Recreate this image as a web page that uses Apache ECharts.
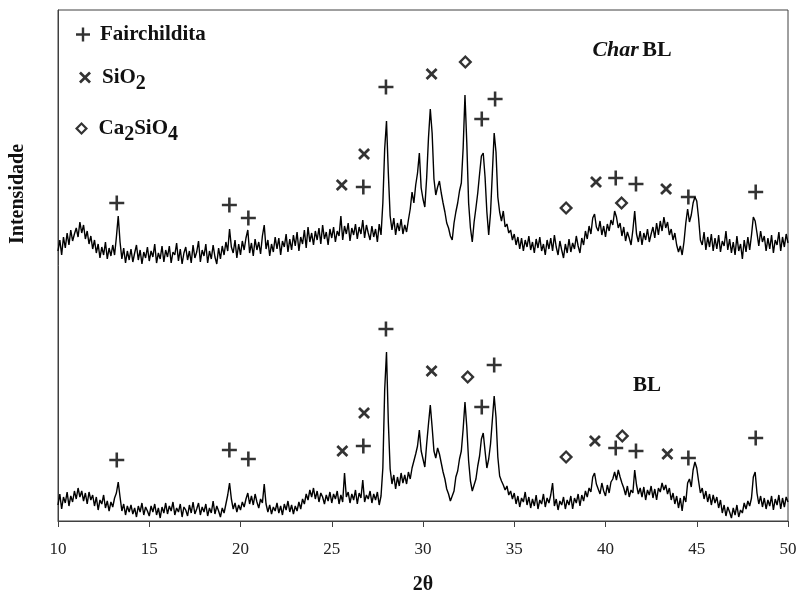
<!DOCTYPE html>
<html>
<head>
<meta charset="utf-8">
<script src="https://cdn.jsdelivr.net/npm/echarts@6/dist/echarts.min.js"></script>
<style>html,body{margin:0;padding:0;background:#fff}#c{width:801px;height:591px}</style>
</head>
<body>
<div id="c"></div>
<script>
// 2θ sampling of the two diffractograms
const twoThetaStart = 10;
const twoThetaStep = 0.1;
const xTicks = [10, 15, 20, 25, 30, 35, 40, 45, 50];

// Intensity (arbitrary units, offset trace) – Char BL, 10.0 … 50.0 step 0.1
const charBL = [
 270,281,266,284,273,288,276,291,280,287,
 293,284,299,288,296,282,290,277,285,272,
 281,268,277,263,274,266,279,262,273,265,
 276,266,284,305,279,262,273,258,270,261,
 272,259,268,276,261,271,257,269,263,274,
 260,270,264,277,258,268,262,275,259,271,
 264,275,258,269,266,278,260,272,257,268,
 274,261,270,258,276,263,269,280,259,271,
 265,277,258,270,262,276,264,257,273,262,
 275,266,279,270,292,274,268,281,263,277,
 266,280,271,283,291,268,278,265,282,271,
 279,267,285,296,272,281,265,277,269,284,
 272,283,266,280,274,287,269,282,271,286,
 275,289,270,284,277,291,273,294,279,288,
 276,290,281,293,277,296,282,289,276,292,
 283,294,279,290,285,305,281,295,287,298,
 280,293,286,297,282,294,287,301,283,296,
 288,281,295,284,292,279,297,286,318,372,
 400,348,305,291,303,286,298,290,302,287,
 296,289,301,312,329,318,336,348,368,333,
 322,314,343,383,412,388,342,326,334,340,
 328,318,309,298,293,285,281,298,309,318,
 330,338,373,426,378,318,293,279,299,313,
 328,347,365,368,344,309,286,308,348,388,
 369,324,309,300,310,294,297,288,291,281,
 287,276,284,272,283,270,281,274,285,271,
 279,268,282,273,284,270,277,266,281,272,
 283,270,286,274,266,280,271,263,277,268,
 282,269,278,272,285,275,268,283,276,290,
 282,295,287,303,307,294,290,300,286,295,
 284,297,290,301,296,310,304,293,298,285,
 294,280,289,283,276,291,310,287,279,290,
 276,288,281,292,279,287,294,283,298,286,
 300,290,304,293,299,286,292,281,288,276,
 269,275,266,279,298,312,299,306,318,324,
 320,303,281,276,289,271,284,274,287,270,
 283,272,286,269,280,275,290,271,282,268,
 279,266,285,270,277,262,281,269,284,271,
 286,304,300,288,275,290,279,285,270,283,
 272,286,268,281,276,289,270,284,274,287,
 278
];

// Intensity – BL, 10.0 … 50.0 step 0.1
const bl = [
 16,27,12,24,18,29,15,25,19,30,
 22,33,24,30,20,28,17,29,21,26,
 15,24,11,21,17,26,13,20,10,19,
 14,23,28,39,24,10,17,6,15,9,
 16,7,13,4,15,9,18,6,14,10,
 5,15,9,17,6,13,3,14,8,18,
 7,15,10,19,6,13,9,17,4,14,
 11,5,16,8,19,7,12,18,6,14,
 9,17,5,13,8,20,7,15,10,4,
 13,8,17,26,38,22,12,18,9,16,
 11,19,14,22,28,17,25,16,27,19,
 13,22,18,37,17,9,16,7,14,10,
 18,8,15,6,17,11,20,9,16,7,
 15,10,19,12,22,17,27,21,31,24,
 33,22,30,19,28,24,17,26,20,29,
 18,27,22,30,17,26,19,48,24,29,
 18,27,21,31,17,28,23,41,19,26,
 22,30,18,27,21,29,16,25,53,131,
 169,99,52,37,46,32,44,35,48,38,
 46,37,49,42,53,60,67,75,91,70,
 62,54,77,97,116,94,70,63,73,67,
 58,49,42,32,27,20,18,30,44,50,
 62,70,92,119,94,60,40,30,28,42,
 55,65,82,88,70,53,62,77,101,125,
 104,64,45,40,36,31,35,26,30,22,
 28,17,25,14,23,19,29,16,24,13,
 22,15,26,12,21,17,27,14,23,18,
 26,38,15,22,11,20,16,24,12,21,
 16,25,12,23,18,27,15,26,20,30,
 24,33,29,44,48,37,32,27,38,30,
 25,36,28,39,42,49,41,51,44,38,
 33,26,35,24,31,28,51,36,27,33,
 24,34,21,31,26,35,23,32,21,33,
 29,38,31,36,27,33,21,28,17,25,
 13,23,10,25,19,38,42,34,51,59,
 53,40,28,33,22,30,19,27,16,26,
 18,24,13,21,8,16,5,14,9,3,
 13,6,16,4,11,8,18,12,20,15,
 23,44,49,28,17,25,14,23,12,21,
 15,25,11,22,16,26,12,23,14,24,
 19
];

// Phase markers [2θ, intensity position]
const fairchildita = [
 [13.22,318],[19.39,316],[20.43,303],[26.73,334],[27.97,434],[33.22,402],[33.95,422],
 [40.56,343],[41.67,337],[44.54,324],[48.23,329],
 [13.22,61],[19.39,71],[20.43,62],[26.73,75],[27.97,192],[33.22,114],[33.90,156],
 [40.56,73],[41.67,70],[44.54,63],[48.23,83]
];
const sio2 = [
 [25.55,336],[26.77,367],[30.47,447],[39.48,339],[43.32,332],
 [25.58,70],[26.77,108],[30.47,150],[39.42,80],[43.39,67]
];
const ca2sio4 = [
 [32.32,459],[37.84,313],[40.88,318],
 [32.45,144],[37.84,64],[40.92,85]
];

const PLUS = 'path://M5.8 0L8.2 0L8.2 5.8L14 5.8L14 8.2L8.2 8.2L8.2 14L5.8 14L5.8 8.2L0 8.2L0 5.8L5.8 5.8Z';
const CROSS = 'path://M0 1.6L1.6 0L5 3.4L8.4 0L10 1.6L6.6 5L10 8.4L8.4 10L5 6.6L1.6 10L0 8.4L3.4 5Z';
const DIAMOND = 'path://M5 0L10 5L5 10L0 5Z M5 2.4L2.4 5L5 7.6L7.6 5Z';

const SERIF = '"Liberation Serif","Times New Roman",serif';
const toXY = arr => arr.map((v, i) => [+(twoThetaStart + i * twoThetaStep).toFixed(2), v]);

const richLeg = {
  a: {fontFamily: SERIF, fontWeight: 'bold', fontSize: 21, color: '#111', lineHeight: 32},
  s: {fontFamily: SERIF, fontWeight: 'bold', fontSize: 20, color: '#111', lineHeight: 20, verticalAlign: 'bottom'}
};
const legFmt = name => ({
  'Fairchildita': '{a|Fairchildita}',
  'SiO2': '{a|SiO}{s|2}',
  'Ca2SiO4': '{a|Ca}{s|2}{a|SiO}{s|4}'
}[name]);
const legBase = {orient: 'vertical', padding: 0, itemWidth: 24, itemHeight: 14, selectedMode: false,
  formatter: legFmt, textStyle: {rich: richLeg}};

const chart = echarts.init(document.getElementById('c'), null, {renderer: 'canvas'});
chart.setOption({
  animation: false,
  backgroundColor: '#fff',
  grid: {left: 58, right: 13, top: 10, bottom: 70, containLabel: false, outerBoundsMode: 'none',
         show: true, borderColor: '#404040', borderWidth: 1},
  legend: [
    Object.assign({}, legBase, {data: [{name: 'Fairchildita', icon: PLUS}], left: 76, top: 24}),
    Object.assign({}, legBase, {data: [{name: 'SiO2', icon: CROSS}], left: 79, top: 67, itemHeight: 12}),
    Object.assign({}, legBase, {data: [{name: 'Ca2SiO4', icon: DIAMOND}], left: 75, top: 118, itemHeight: 13})
  ],
  xAxis: {
    type: 'value', min: 10, max: 50, interval: 5,
    axisLine: {show: true, lineStyle: {color: '#404040', width: 1}},
    axisTick: {show: true, inside: false, length: 6, lineStyle: {color: '#404040'}},
    axisLabel: {margin: 20, fontFamily: SERIF, fontSize: 17, color: '#222',
      formatter: v => xTicks.includes(v) ? String(v) : ''},
    splitLine: {show: false},
    name: '2θ', nameLocation: 'middle', nameGap: 54,
    nameTextStyle: {fontFamily: SERIF, fontWeight: 'bold', fontSize: 20, color: '#111'}
  },
  yAxis: {
    type: 'value', min: 0, max: 511,
    axisLine: {show: true, lineStyle: {color: '#404040', width: 1}},
    axisTick: {show: false}, axisLabel: {show: false}, splitLine: {show: false}
  },
  graphic: [
    {type: 'text', x: 18, y: 194, rotation: Math.PI / 2,
     style: {text: 'Intensidade', fontFamily: SERIF, fontWeight: 'bold', fontSize: 20, fill: '#111',
       textAlign: 'center', textVerticalAlign: 'middle'}},
    {type: 'text', x: 632, y: 50,
     style: {text: '{i|Char} {b|BL}', textAlign: 'center', textVerticalAlign: 'middle',
       rich: {i: {fontFamily: SERIF, fontWeight: 'bold', fontStyle: 'italic', fontSize: 22, fill: '#111'},
              b: {fontFamily: SERIF, fontWeight: 'bold', fontSize: 22, fill: '#111'}}}},
    {type: 'text', x: 647, y: 386,
     style: {text: 'BL', fontFamily: SERIF, fontWeight: 'bold', fontSize: 21, fill: '#111',
       textAlign: 'center', textVerticalAlign: 'middle'}}
  ],
  series: [
    {name: 'Char BL', type: 'line', data: toXY(charBL), showSymbol: false, symbol: 'none',
     lineStyle: {color: '#000', width: 1.4}, z: 2},
    {name: 'BL', type: 'line', data: toXY(bl), showSymbol: false, symbol: 'none',
     lineStyle: {color: '#000', width: 1.4}, z: 2},
    {name: 'Fairchildita', type: 'scatter', data: fairchildita, symbol: PLUS, symbolSize: 15,
     itemStyle: {color: '#000'}, z: 3},
    {name: 'SiO2', type: 'scatter', data: sio2, symbol: CROSS, symbolSize: 12,
     itemStyle: {color: '#000'}, z: 3},
    {name: 'Ca2SiO4', type: 'scatter', data: ca2sio4, symbol: DIAMOND, symbolSize: 14,
     itemStyle: {color: '#000'}, z: 3}
  ]
});
</script>
</body>
</html>
